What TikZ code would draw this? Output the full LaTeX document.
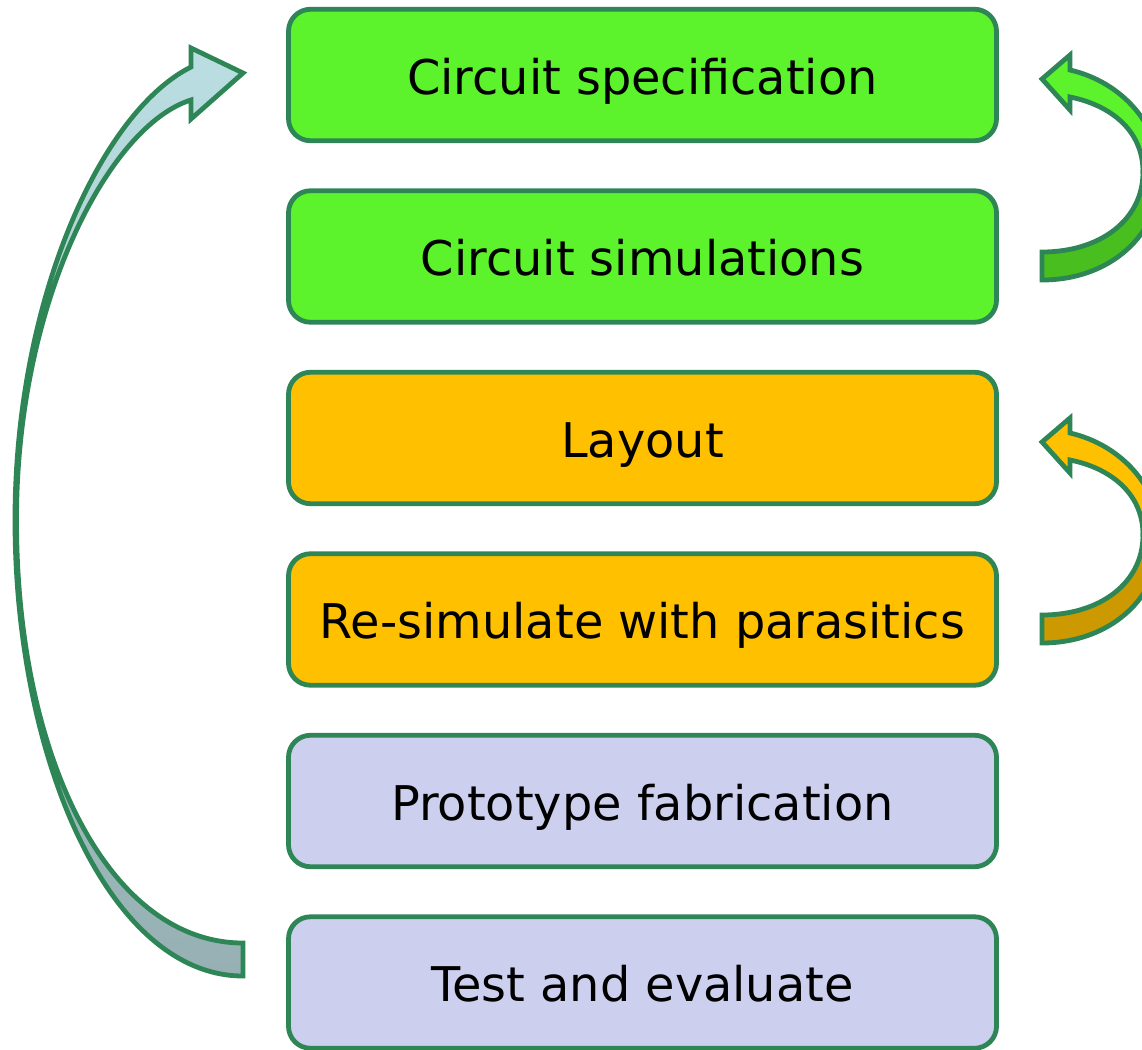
\documentclass[tikz,border=0pt]{standalone}
\usepackage{fontspec}
\setmainfont{DejaVu Sans}
\definecolor{edgec}{HTML}{2E8657}
\definecolor{gLight}{HTML}{5CF22C}
\definecolor{gDark}{HTML}{48BF1F}
\definecolor{oLight}{HTML}{FFC000}
\definecolor{oDark}{HTML}{CC9A00}
\definecolor{lav}{HTML}{CDCFEE}
\definecolor{lTop}{HTML}{BADEE2}
\definecolor{lBot}{HTML}{96B0B3}
\begin{document}
\begin{tikzpicture}[x=1pt,y=-1pt,
  box/.style={draw=edgec, line width=4.8pt, rounded corners=22pt,
    minimum width=708pt, minimum height=131.5pt, inner sep=0pt,
    text height=38pt, text depth=0pt, font=\fontsize{47.8}{56}\selectfont},
  blk/.style={draw=edgec, line width=4.8pt, line join=miter}]
\useasboundingbox (0,0) rectangle (1142,1049);

\node[box, fill=gLight] (b1) at (642.5,75)    {Circuit specification};
\node[box, fill=gLight] (b2) at (642.5,256.5) {Circuit simulations};
\node[box, fill=oLight] (b3) at (642.5,438)   {Layout};
\node[box, fill=oLight] (b4) at (642.5,619.5) {Re-simulate with parasitics};
\node[box, fill=lav]    (b5) at (642.5,801)   {Prototype fabrication};
\node[box, fill=lav]    (b6) at (642.5,982.5) {Test and evaluate};

% left curved arrow (test -> specification)
\path[blk, top color=lTop, bottom color=lBot]
  (243,976) .. controls (110,976) and (15,760) .. (15,520)
  .. controls (15,300) and (101,112) .. (191,67)
  -- (191,48) -- (243,73) -- (191,119) -- (191,100)
  .. controls (110,125) and (16.5,300) .. (16.5,520)
  .. controls (16.5,760) and (110,943) .. (243,943) -- cycle;

% right curved arrows
\foreach \dy/\cl/\cd in {0/gLight/gDark, 363/oLight/oDark}{
  \begin{scope}[shift={(0,\dy)}]
    \path[blk, fill=\cd]
      (1160,175) .. controls (1160,235) and (1110,280) .. (1042,280)
      -- (1042,252) .. controls (1100,252) and (1143,220) .. (1143,172) -- cycle;
    \path[blk, fill=\cl]
      (1070,70) .. controls (1122,82) and (1160,125) .. (1160,175)
      -- (1143,172) .. controls (1143,130) and (1110,105) .. (1070,97)
      -- (1070,110) -- (1042,79) -- (1070,55) -- cycle;
  \end{scope}
}
\end{tikzpicture}
\end{document}
